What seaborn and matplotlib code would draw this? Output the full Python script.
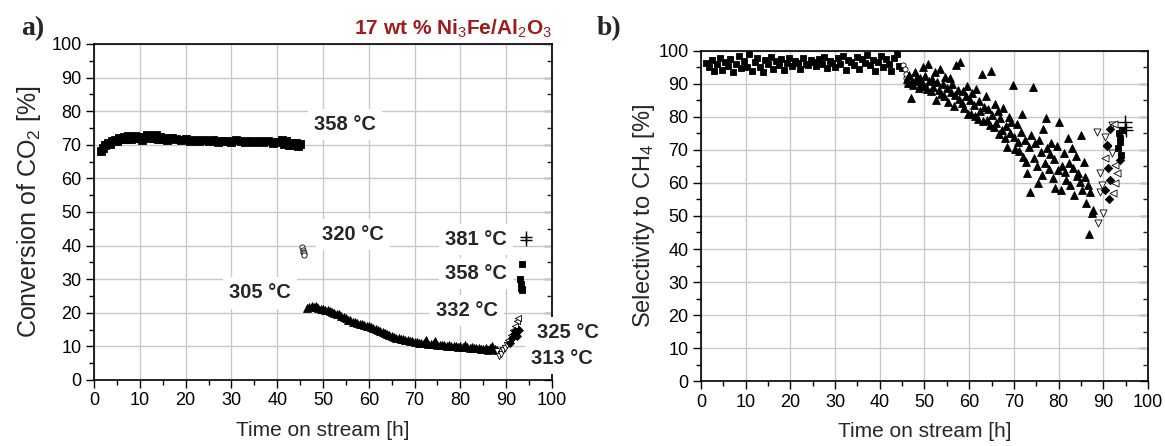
import matplotlib
matplotlib.use("Agg")
import matplotlib.pyplot as plt
import seaborn as sns
from matplotlib.ticker import MultipleLocator

# ---------------- Panel a: conversion of CO2 ----------------
a_sq_t = [1.5,2.0,2.5,3.0,3.5,4.0,4.5,5.0,5.5,6.0,6.5,7.0,7.5,8.0,8.5,9.0,9.5,10.0,10.5,11.0,
          11.5,12.0,12.5,13.0,13.5,14.0,14.5,15.0,15.5,16.0,17.0,18.0,19.0,20.0,21.0,22.0,23.0,
          24.0,25.0,26.0,27.0,28.0,29.0,30.0,31.0,32.0,33.0,34.0,35.0,36.0,37.0,38.0,39.0,40.0,
          41.0,41.5,42.0,42.5,43.0,43.5,44.0,44.5,45.0]
a_sq_v = [68.2,69.0,69.8,70.5,70.2,71.0,71.5,71.2,72.0,71.6,72.3,71.8,72.5,71.7,72.0,72.6,71.9,
          72.4,71.5,72.2,72.8,71.9,72.5,72.0,72.9,71.8,72.3,71.7,72.1,71.5,72.0,71.8,71.4,71.6,
          71.2,71.5,71.0,71.3,71.1,71.4,70.9,71.2,71.0,70.8,71.3,71.1,70.9,71.2,70.7,71.0,70.8,
          71.2,70.6,70.9,71.4,70.3,71.0,70.0,70.5,69.8,70.6,69.5,70.2]

a_ci_t = [45.5,45.6,45.7,45.8,45.9]
a_ci_v = [39.5,38.8,38.2,37.8,37.3]

a_tr_t = [46.5,47.0,47.5,48.0,48.5,49.0,49.5,50.0,50.5,51.0,51.5,52.0,52.5,53.0,53.5,54.0,
          54.5,55.0,55.5,56.0,56.5,57.0,57.5,58.0,58.5,59.0,59.5,60.0,60.5,61.0,61.5,62.0,
          62.5,63.0,63.5,64.0,64.5,65.0,65.5,66.0,66.5,67.0,67.5,68.0,68.5,69.0,69.5,70.0,
          70.5,71.0,71.5,72.0,72.5,73.0,73.5,74.0,74.5,75.0,75.5,76.0,76.5,77.0,77.5,78.0,
          78.5,79.0,79.5,80.0,80.5,81.0,81.5,82.0,82.5,83.0,83.5,84.0,84.5,85.0,85.5,86.0,
          86.5,87.0,87.5,88.0]
a_tr_v = [21.3,21.8,22.0,21.6,21.9,21.4,21.2,21.0,20.8,20.9,20.4,20.2,20.0,19.6,19.5,19.0,
          18.7,18.4,18.0,17.8,17.4,17.2,17.0,16.8,16.7,16.4,16.2,16.0,15.8,15.5,15.2,15.0,
          14.7,14.4,14.0,13.6,13.3,13.0,12.8,12.6,12.5,12.3,12.1,12.0,11.8,11.6,11.5,11.3,
          11.2,11.0,11.1,10.9,11.8,10.8,10.7,10.6,11.5,10.5,10.4,10.4,10.3,10.2,10.3,10.1,
          10.0,10.2,9.9,10.0,9.8,10.4,9.7,9.6,9.8,9.5,9.4,9.6,9.3,9.2,9.4,9.0,
          9.6,10.2,9.3,8.8]

a_dt_t = [87.9,88.4,88.9,89.3,89.7,90.1]
a_dt_v = [8.5,7.2,7.6,8.8,9.5,10.5]
a_lt_t = [90.5,91.0,91.5,91.9,92.3,92.6]
a_lt_v = [12.0,13.5,14.8,16.0,17.5,18.5]
a_di_t = [90.8,91.2,91.6,92.0,92.4,92.8]
a_di_v = [11.0,12.5,13.8,14.5,13.0,15.0]
a_sq2_t = [93.1,93.2,93.3,93.4,93.5,93.5]
a_sq2_v = [30.0,28.5,27.5,27.0,26.8,34.5]
a_pl_t = [94.3,94.4]
a_pl_v = [42.5,41.8]

a_labels = ["358 °C", "320 °C", "305 °C", "381 °C", "358 °C", "332 °C", "325 °C", "313 °C"]
a_lab_t = [54.8, 56.5, 36.2, 83.4, 83.4, 81.4, 103.4, 102.2]
a_lab_v = [75.9, 43.2, 25.9, 41.7, 31.8, 20.8, 14.2, 6.4]

# ---------------- Panel b: selectivity to CH4 ----------------
b_sq_t = [1.2,1.8,2.4,3.0,3.6,4.2,4.8,5.4,6.0,6.6,7.2,7.8,8.4,9.0,9.6,10.2,10.8,11.4,12.0,12.6,
          13.2,13.8,14.4,15.0,15.6,16.2,16.8,17.4,18.0,18.6,19.2,19.8,20.4,21.0,21.6,22.2,22.8,
          23.4,24.0,24.6,25.2,25.8,26.4,27.0,27.6,28.2,28.8,29.4,30.0,30.6,31.2,31.8,32.4,33.0,
          33.6,34.2,34.8,35.4,36.0,36.6,37.2,37.8,38.4,39.0,39.6,40.2,40.8,41.4,42.0,42.6,
          43.2,43.8,44.4,45.0]
b_sq_v = [96.5,95.0,97.2,93.8,96.0,98.0,94.2,96.8,95.5,97.5,
          93.6,96.2,98.6,94.8,97.0,95.2,99.2,94.0,96.6,97.8,
          95.0,93.5,97.4,96.0,98.2,94.4,96.9,95.6,97.6,94.1,
          96.3,98.0,95.3,97.1,96.5,94.6,97.9,96.2,95.8,97.3,
          96.8,95.4,97.6,96.1,98.3,94.9,97.0,96.4,95.2,97.8,
          96.0,98.5,94.3,97.2,96.7,95.9,98.1,94.5,97.5,96.3,
          98.8,95.6,97.4,93.9,96.8,98.4,95.1,97.7,96.2,94.0,
          97.9,99.0,95.5,94.7]

b_ci_t = [45.3,45.6,45.9,46.1,45.8]
b_ci_v = [95.7,94.5,91.8,90.0,93.0]

b_tr_t = [46.0,46.3,46.6,46.9,47.2,47.5,47.8,48.1,48.4,48.7,
          49.0,49.3,49.6,49.9,50.2,50.5,50.8,51.1,51.4,51.7,
          52.0,52.3,52.6,52.9,53.2,53.5,53.8,54.1,54.4,54.7,
          55.0,55.3,55.6,55.9,56.2,56.5,56.8,57.1,57.4,57.7,
          58.0,58.3,58.6,58.9,59.2,59.5,59.8,60.1,60.4,60.7,
          61.0,61.3,61.6,61.9,62.2,62.5,62.8,63.1,63.4,63.7,
          64.0,64.3,64.6,64.9,65.2,65.5,65.8,66.1,66.4,66.7,
          67.0,67.3,67.6,67.9,68.2,68.5,68.8,69.1,69.4,69.7,
          70.0,70.3,70.6,70.9,71.2,71.5,71.8,72.1,72.4,72.7,
          73.0,73.3,73.6,73.9,74.2,74.5,74.8,75.1,75.4,75.7,
          76.0,76.3,76.6,76.9,77.2,77.5,77.8,78.1,78.4,78.7,
          79.0,79.3,79.6,79.9,80.2,80.5,80.8,81.1,81.4,81.7,
          82.0,82.3,82.6,82.9,83.2,83.5,83.8,84.1,84.4,84.7,
          85.0,85.3,85.6,85.9,86.2,86.5,86.8,87.1,87.4,87.7]
b_tr_v = [91.5,90.2,92.8,85.8,91.0,89.6,93.5,90.8,92.0,88.7,
          91.8,90.4,95.2,89.5,92.3,88.6,96.0,90.9,87.8,91.4,
          89.2,93.6,85.0,90.6,88.3,94.5,87.1,90.0,86.4,92.2,
          88.8,84.6,91.7,87.5,89.9,83.4,86.8,95.8,88.1,85.3,
          96.7,84.2,87.9,82.6,86.3,89.4,80.9,85.1,81.0,87.2,
          83.7,80.2,88.6,79.5,84.8,81.7,93.0,78.8,83.1,86.5,
          79.0,82.4,77.6,94.0,80.5,76.9,84.0,78.2,81.9,74.8,
          79.6,76.0,82.8,73.5,77.4,71.0,80.1,75.2,78.5,89.7,
          74.0,70.2,77.9,72.3,69.8,75.6,81.0,68.0,73.1,66.5,
          63.0,70.8,57.3,74.6,89.0,67.7,72.0,65.0,60.0,73.0,
          69.4,62.5,76.3,66.0,79.7,70.5,64.2,68.9,72.0,61.6,
          67.3,58.6,71.3,63.8,78.5,57.9,65.0,69.0,63.3,60.8,
          73.6,66.2,59.5,70.6,64.6,56.4,68.2,62.0,63.0,60.4,
          74.5,57.9,66.5,61.9,54.0,59.3,44.5,57.3,51.0,51.8]

b_dt_t = [88.6,88.8,89.3,89.3,89.7,89.9,90.4,91.9,92.0]
b_dt_v = [75.5,48.0,63.0,57.3,59.4,51.0,74.0,69.0,77.6]
b_lt_t = [90.4,92.2,92.6,92.6,93.0,92.4]
b_lt_v = [67.6,57.0,65.5,60.0,63.0,78.0]
b_di_t = [90.4,90.8,90.8,91.0,91.3,91.5,91.5,93.7]
b_di_v = [58.0,71.2,71.5,64.5,55.0,61.0,76.4,67.0]
b_sq2_t = [93.3,93.5,93.7,93.7,94.0,94.1]
b_sq2_v = [70.6,75.0,73.6,72.4,68.5,76.0]
b_pl_t = [94.9,95.0,94.8]
b_pl_v = [78.5,76.0,77.0]

# ---------------- style ----------------
sns.set_style("whitegrid")
plt.rcParams["font.family"] = ["Liberation Sans", "DejaVu Sans"]
plt.rcParams["mathtext.fontset"] = "custom"
plt.rcParams["mathtext.rm"] = "Liberation Sans"
plt.rcParams["mathtext.it"] = "Liberation Sans:italic"
plt.rcParams["mathtext.bf"] = "Liberation Sans:bold"

fig = plt.figure(figsize=(11.65, 4.46), dpi=100)
ax_a = fig.add_axes([0.0807, 0.148, 0.3931, 0.7534])
ax_b = fig.add_axes([0.6017, 0.1457, 0.3837, 0.74])


def series(ax, t, v, marker, filled=True, s=14, lw=0.6):
    if marker == "+":
        sns.scatterplot(x=t, y=v, marker="+", color="black", s=s, linewidth=lw, ax=ax, zorder=3)
    else:
        sns.scatterplot(x=t, y=v, marker=marker, color="black" if filled else "white",
                        edgecolor="black", s=s, linewidth=lw, ax=ax, zorder=3)


def style_axes(ax, ylabel, ysize, ypad):
    ax.set_xlim(0, 100)
    ax.set_ylim(0, 100)
    ax.xaxis.set_major_locator(MultipleLocator(10))
    ax.yaxis.set_major_locator(MultipleLocator(10))
    ax.xaxis.set_minor_locator(MultipleLocator(5))
    ax.yaxis.set_minor_locator(MultipleLocator(5))
    ax.grid(True, which="major", color="#c8c8c8", linewidth=1.0)
    ax.grid(False, which="minor")
    ax.set_axisbelow(True)
    for sp in ax.spines.values():
        sp.set_color("black")
        sp.set_linewidth(1.2)
    ax.tick_params(axis="x", which="both", direction="out", bottom=True, top=False,
                   colors="black", labelsize=13, pad=3)
    ax.tick_params(axis="x", which="major", length=6, width=1)
    ax.tick_params(axis="x", which="minor", length=3.5, width=1)
    ax.tick_params(axis="y", which="both", direction="out", left=True, colors="black",
                   labelsize=13, pad=3)
    ax.tick_params(axis="y", which="major", length=6, width=1)
    ax.tick_params(axis="y", which="minor", length=3.5, width=1)
    ax.set_xlabel("Time on stream [h]", fontsize=15, labelpad=8)
    ax.set_ylabel(ylabel, fontsize=ysize, labelpad=ypad)
    # inward ticks on the right spine
    sec = ax.secondary_yaxis("right")
    sec.yaxis.set_major_locator(MultipleLocator(10))
    sec.yaxis.set_minor_locator(MultipleLocator(5))
    sec.tick_params(which="major", direction="in", length=6, width=1, labelright=False)
    sec.tick_params(which="minor", direction="in", length=3.5, width=1, labelright=False)
    sec.spines["right"].set_linewidth(1.2)


# panel a
series(ax_a, a_sq_t, a_sq_v, "s", s=26)
series(ax_a, a_ci_t, a_ci_v, "o", filled=False, s=14)
series(ax_a, a_tr_t, a_tr_v, "^", s=32)
series(ax_a, a_dt_t, a_dt_v, "v", filled=False, s=20)
series(ax_a, a_lt_t, a_lt_v, "<", filled=False, s=20)
series(ax_a, a_di_t, a_di_v, "D", s=16)
series(ax_a, a_sq2_t, a_sq2_v, "s", s=14)
series(ax_a, a_pl_t, a_pl_v, "+", s=80, lw=1.0)
style_axes(ax_a, "Conversion of CO$_2$ [%]", 18, 6)
for lab, t, v in zip(a_labels, a_lab_t, a_lab_v):
    ax_a.text(t, v, lab, fontsize=14.5, fontweight="bold", ha="center", va="center",
              clip_on=False, zorder=4,
              bbox=dict(boxstyle="square,pad=0.3", facecolor="white", edgecolor="none"))

# panel b
series(ax_b, b_sq_t, b_sq_v, "s", s=20)
series(ax_b, b_ci_t, b_ci_v, "o", filled=False, s=14)
series(ax_b, b_tr_t, b_tr_v, "^", s=32)
series(ax_b, b_dt_t, b_dt_v, "v", filled=False, s=26)
series(ax_b, b_lt_t, b_lt_v, "<", filled=False, s=26)
series(ax_b, b_di_t, b_di_v, "D", s=18)
series(ax_b, b_sq2_t, b_sq2_v, "s", s=18)
series(ax_b, b_pl_t, b_pl_v, "+", s=90, lw=1.0)
style_axes(ax_b, "Selectivity to CH$_4$ [%]", 17, 1)

fig.text(0.4738, 0.935, "17 wt % Ni$_3$Fe/Al$_2$O$_3$", color="#A01C1C", fontsize=15,
         fontweight="bold", ha="right", va="center")
fig.text(0.018, 0.935, "a)", fontsize=20, fontweight="bold", family="Liberation Serif",
         ha="left", va="center")
fig.text(0.512, 0.935, "b)", fontsize=20, fontweight="bold", family="Liberation Serif",
         ha="left", va="center")

fig.savefig("out.png", dpi=100)
